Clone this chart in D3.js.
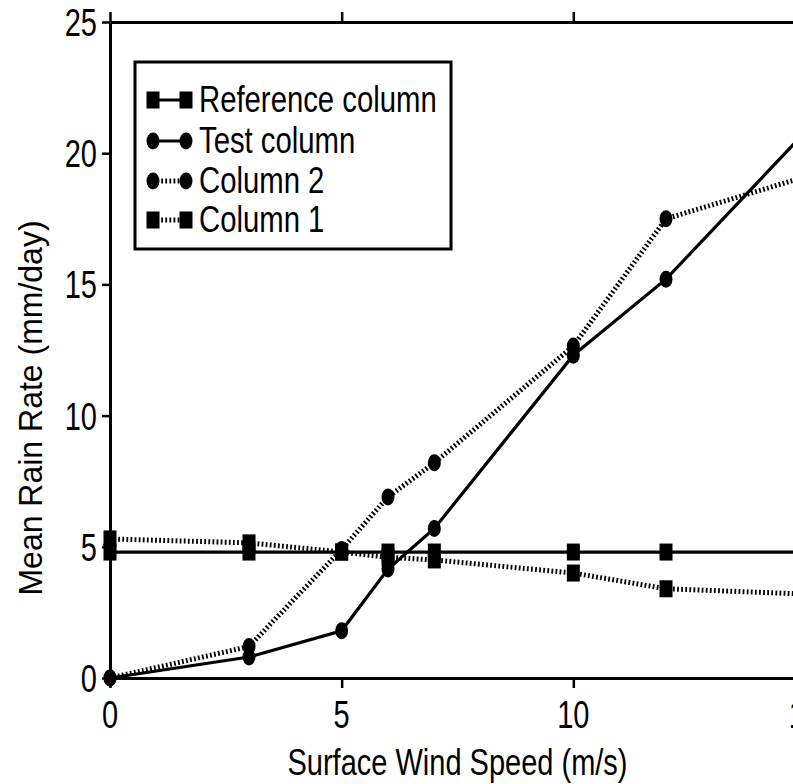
<!DOCTYPE html>
<html>
<head>
<meta charset="utf-8">
<script src="https://cdn.jsdelivr.net/npm/d3@7"></script>
<style>
  body { margin: 0; background: #fff; }
  svg { display: block; font-family: "Liberation Sans", Arial, sans-serif; }
</style>
</head>
<body>
<div id="chart"></div>
<script>
// wind speed (m/s) where every column was sampled
const windSpeed = [0, 3, 5, 6, 7, 10, 12, 15];
const referenceColumn = [4.8, 4.8, 4.8, 4.8, 4.8, 4.8, 4.8, 4.8];
const testColumn = [0, 0.8, 1.8, 4.15, 5.7, 12.3, 15.2, 20.8];
const column2 = [0, 1.2, 4.9, 6.9, 8.2, 12.65, 17.5, 19.1];
const column1 = [5.3, 5.15, 4.8, 4.6, 4.5, 4.0, 3.4, 3.2];

const xTicks = [0, 5, 10, 15];
const yTicks = [0, 5, 10, 15, 20, 25];

const seriesNames = ["Reference column", "Test column", "Column 2", "Column 1"];
const seriesValues = [referenceColumn, testColumn, column2, column1];
const seriesMarker = ["square", "circle", "circle", "square"];
const seriesDotted = [false, false, true, true];

const W = 793, H = 784;
const margin = { left: 110, top: 22, right: -12, bottom: 106 };
const width = W - margin.left - margin.right;   // plot runs past the right edge
const height = H - margin.top - margin.bottom;
const stretch = 1.35; // text in the picture is drawn tall

const svg = d3.select('#chart').append('svg')
  .attr('width', W).attr('height', H);

const g = svg.append('g')
  .attr('transform', `translate(${margin.left},${margin.top})`);

const x = d3.scaleLinear().domain([0, 15]).range([0, width]);
const y = d3.scaleLinear().domain([0, 25]).range([height, 0]);

// axes (labels drawn separately so they can be stretched)
const axisStyle = sel => {
  sel.select('.domain').attr('stroke', '#000').attr('stroke-width', 3);
  sel.selectAll('.tick line').attr('stroke', '#000').attr('stroke-width', 2.5);
};

g.append('g')
  .attr('transform', `translate(0,${height})`)
  .call(d3.axisBottom(x).tickValues(xTicks).tickSize(10).tickSizeOuter(0).tickFormat(''))
  .call(axisStyle);

g.append('g')
  .call(d3.axisTop(x).tickValues(xTicks).tickSize(10).tickSizeOuter(0).tickFormat(''))
  .call(axisStyle);

g.append('g')
  .call(d3.axisLeft(y).tickValues(yTicks).tickSize(8).tickSizeOuter(0).tickFormat(''))
  .call(axisStyle);

g.selectAll('.xlab')
  .data(xTicks)
  .enter()
  .append('text')
  .attr('transform', d => `translate(${x(d)},${height + 50}) scale(1,${stretch})`)
  .attr('text-anchor', 'middle')
  .attr('font-size', 29)
  .text(d => d);

g.selectAll('.ylab')
  .data(yTicks)
  .enter()
  .append('text')
  .attr('transform', d => `translate(-13,${y(d) + 14}) scale(1,${stretch})`)
  .attr('text-anchor', 'end')
  .attr('font-size', 29)
  .text(d => d);

// axis titles
g.append('text')
  .attr('transform', `translate(${width / 2},${height + 97}) scale(1,1.3)`)
  .attr('text-anchor', 'middle')
  .attr('font-size', 29)
  .text('Surface Wind Speed (m/s)');

svg.append('text')
  .attr('transform', `translate(42,408) rotate(-90) scale(1,1.05)`)
  .attr('text-anchor', 'middle')
  .attr('font-size', 32)
  .text('Mean Rain Rate (mm/day)');

// lines
const line = d3.line()
  .x((d, i) => x(windSpeed[i]))
  .y(d => y(d));

function styleLine(sel, dotted) {
  sel.attr('fill', 'none').attr('stroke', '#000');
  if (dotted) {
    sel.attr('stroke-width', 5).attr('stroke-dasharray', '1.8,2.3');
  } else {
    sel.attr('stroke-width', 3.2);
  }
}

function drawMarker(sel, type, cx, cy) {
  if (type === 'square') {
    sel.append('rect')
      .attr('x', cx - 6.5).attr('y', cy - 8.5)
      .attr('width', 13).attr('height', 17)
      .attr('fill', '#000');
  } else {
    sel.append('ellipse')
      .attr('cx', cx).attr('cy', cy)
      .attr('rx', 6.5).attr('ry', 8.5)
      .attr('fill', '#000');
  }
}

const order = [3, 2, 1, 0];
order.forEach(s => {
  g.append('path')
    .datum(seriesValues[s])
    .attr('d', line)
    .call(styleLine, seriesDotted[s]);
});
order.forEach(s => {
  const mg = g.append('g');
  seriesValues[s].forEach((v, i) => drawMarker(mg, seriesMarker[s], x(windSpeed[i]), y(v)));
});

// legend
const legend = svg.append('g');
legend.append('rect')
  .attr('x', 135).attr('y', 62)
  .attr('width', 316).attr('height', 187)
  .attr('fill', '#fff')
  .attr('stroke', '#000')
  .attr('stroke-width', 3);

const rowY = [100, 141, 181, 220];
seriesNames.forEach((name, s) => {
  const ry = rowY[s];
  legend.append('line')
    .attr('x1', 153).attr('x2', 186)
    .attr('y1', ry).attr('y2', ry)
    .call(styleLine, seriesDotted[s]);
  drawMarker(legend, seriesMarker[s], 153, ry);
  drawMarker(legend, seriesMarker[s], 186, ry);
  legend.append('text')
    .attr('transform', `translate(199,${ry + 12}) scale(1,1.25)`)
    .attr('font-size', 29.3)
    .text(name);
});
</script>
</body>
</html>
